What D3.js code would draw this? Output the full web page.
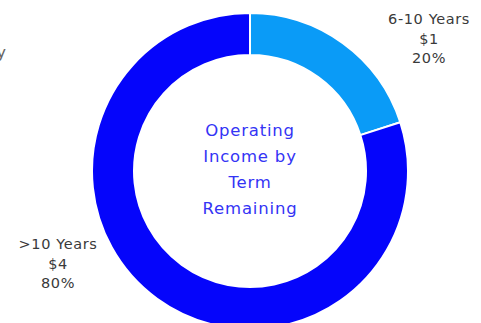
<!DOCTYPE html>
<html>
<head>
<meta charset="utf-8">
<script src="https://cdn.jsdelivr.net/npm/d3@7"></script>
<style>
  html, body { margin: 0; padding: 0; background: #fff; }
  svg { display: block; }
</style>
</head>
<body>
<svg id="chart" width="481" height="323"></svg>
<script>
// Operating income split by remaining lease term
const categories = ["6-10 Years", ">10 Years"];
const amounts = [1, 4];
const amountLabels = ["$1", "$4"];
const percentLabels = ["20%", "80%"];
const sliceColors = ["#0a9bf7", "#0505fb"];
const centerTitle = ["Operating", "Income by", "Term", "Remaining"];

const width = 481, height = 323;
const cx = 250, cy = 171;
const outerR = 158, innerR = 116;
const fontFamily = "'DejaVu Sans', Verdana, sans-serif";

const svg = d3.select("#chart");
const g = svg.append("g").attr("transform", `translate(${cx},${cy})`);

const pie = d3.pie().sort(null).value(d => d);
const arc = d3.arc().innerRadius(innerR).outerRadius(outerR);

g.selectAll("path.slice")
  .data(pie(amounts))
  .join("path")
  .attr("class", "slice")
  .attr("d", arc)
  .attr("fill", (d, i) => sliceColors[i])
  .attr("stroke", "#fff")
  .attr("stroke-width", 2);

// centre title
const title = g.append("text")
  .attr("text-anchor", "middle")
  .attr("font-family", fontFamily)
  .attr("font-size", 16.5)
  .attr("letter-spacing", 0.8)
  .attr("fill", "#3434f5");
centerTitle.forEach((line, i) => {
  title.append("tspan")
    .attr("x", 0)
    .attr("y", -35 + i * 26)
    .text(line);
});

// outside labels
const labelPos = [[429, 24], [58, 249]];
categories.forEach((cat, i) => {
  const t = svg.append("text")
    .attr("text-anchor", "middle")
    .attr("font-family", fontFamily)
    .attr("font-size", 14.5)
    .attr("letter-spacing", 0.6)
    .attr("fill", "#3a3a3a");
  [cat, amountLabels[i], percentLabels[i]].forEach((line, j) => {
    t.append("tspan")
      .attr("x", labelPos[i][0])
      .attr("y", labelPos[i][1] + j * 19.5)
      .text(line);
  });
});

// clipped edge of a neighbouring caption
svg.append("text")
  .attr("x", 6).attr("y", 58)
  .attr("text-anchor", "end")
  .attr("font-family", fontFamily)
  .attr("font-size", 16)
  .attr("fill", "#666")
  .text("y");
</script>
</body>
</html>
